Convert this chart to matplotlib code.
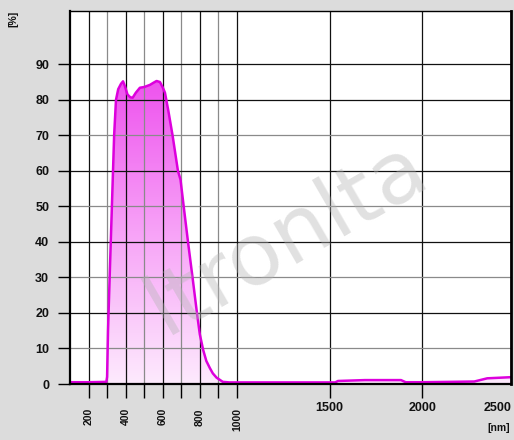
import numpy as np
import matplotlib.pyplot as plt
from matplotlib.colors import LinearSegmentedColormap
from matplotlib.transforms import blended_transform_factory

# transmission curve [%] against wavelength [nm]
wavelength = [100, 200, 296, 300, 305, 315, 338, 348, 360, 375, 386, 395, 410, 425,
              438, 455, 477, 500, 531, 550, 567, 585, 600, 612, 630, 653, 682, 696,
              714, 737, 761, 786, 800, 818, 835, 854, 870, 890, 924, 960, 1200, 1530,
              1545, 1690, 1885, 1910, 2000, 2150, 2280, 2350, 2470, 2500]
transmission = [0.5, 0.5, 0.6, 2.0, 15, 32, 70, 80, 83, 84.5, 85.2, 84, 81.5, 80.7,
                80.6, 82, 83.4, 83.6, 84.2, 84.8, 85.3, 85, 83.5, 82, 77, 70, 60, 57.5,
                49.6, 39.7, 29.9, 19.4, 14, 9.6, 6.5, 4.5, 3, 1.8, 0.6, 0.45, 0.45, 0.45,
                0.85, 1.1, 1.1, 0.5, 0.5, 0.6, 0.7, 1.6, 1.9, 2.0]

grid_x = [200, 300, 400, 500, 600, 700, 800, 900, 1000, 1500, 2000]
rot_labels = [200, 400, 600, 800, 1000]
flat_labels = [1500, 2000, 2500]
grid_y = [10, 20, 30, 40, 50, 60, 70, 80, 90]

bg = '#dcdcdc'
line_col = '#dd00dd'
dark = '#111111'
light = '#8a8a8a'


def grid_color_x(g):
    return dark if g in (200, 400, 600, 800, 1000, 1500, 2000) else light


def grid_color_y(g):
    return dark if g % 20 == 0 or g == 90 else light


fig = plt.figure(figsize=(5.14, 4.4), dpi=100, facecolor=bg)
ax = fig.add_axes([70 / 514, 56 / 440, 441 / 514, 373 / 440])
ax.set_xlim(100, 2478)
ax.set_ylim(0, 105)
ax.set_facecolor('white')

# gradient filled area under the curve
cmap = LinearSegmentedColormap.from_list('pk', ['#fdeafd', '#f7a2f7', '#ee52ee'])
grad = np.linspace(0, 1, 256).reshape(-1, 1)
img = ax.imshow(grad, cmap=cmap, aspect='auto', origin='lower',
                extent=[100, 2500, 0, 86], zorder=2)
poly = ax.fill_between(wavelength, transmission, 0, color='none', lw=0)
img.set_clip_path(poly.get_paths()[0], transform=ax.transData)
ax.plot(wavelength, transmission, color=line_col, lw=1.8, zorder=4,
        solid_joinstyle='round')

# grid lines sit on top of the fill
for g in grid_x:
    ax.axvline(g, color=grid_color_x(g), lw=0.9, zorder=3)
for g in grid_y:
    ax.axhline(g, color=grid_color_y(g), lw=0.9, zorder=3)

for s in ax.spines.values():
    s.set_color('black')
    s.set_zorder(5)
ax.spines['left'].set_linewidth(1.6)
ax.spines['bottom'].set_linewidth(1.6)
ax.spines['top'].set_linewidth(1.0)
ax.spines['right'].set_linewidth(2.0)

ax.set_xticks(grid_x)
ax.set_xticklabels([])
ax.tick_params(axis='x', length=10, width=1.0, color='black', direction='out')
ax.set_yticks([0] + grid_y)
ax.set_yticklabels([str(v) for v in [0] + grid_y], fontsize=9, fontweight='bold',
                   family='Liberation Sans', color=dark)
ax.tick_params(axis='y', length=9, width=1.0, color='black', pad=6)

tr = blended_transform_factory(ax.transData, ax.transAxes)
for v in rot_labels:
    ax.text(v, -0.065, str(v), transform=tr, rotation=90, ha='center', va='top',
            fontsize=7.5, fontweight='bold', family='Liberation Sans', color=dark)
for v in flat_labels:
    ax.text(min(v, 2478), -0.047, str(v), transform=tr,
            ha='center' if v < 2500 else 'right', va='top', fontsize=9,
            fontweight='bold', family='Liberation Sans', color=dark)

fig.text(510 / 514, 1 - 428 / 440, '[nm]', ha='right', va='center', fontsize=7.5,
         fontweight='bold', family='Liberation Sans', color=dark)
fig.text(13 / 514, 1 - 19 / 440, '[%]', ha='center', va='center', rotation=90,
         fontsize=7.5, fontweight='bold', family='Liberation Sans', color=dark)

# faint watermark across the chart
fig.text(0.56, 0.46, 'ltronlta', ha='center', va='center', rotation=30,
         fontsize=62, family='DejaVu Sans', color='#b4b4b4', alpha=0.4, zorder=10)

fig.savefig('out.png', dpi=100, facecolor=bg)
